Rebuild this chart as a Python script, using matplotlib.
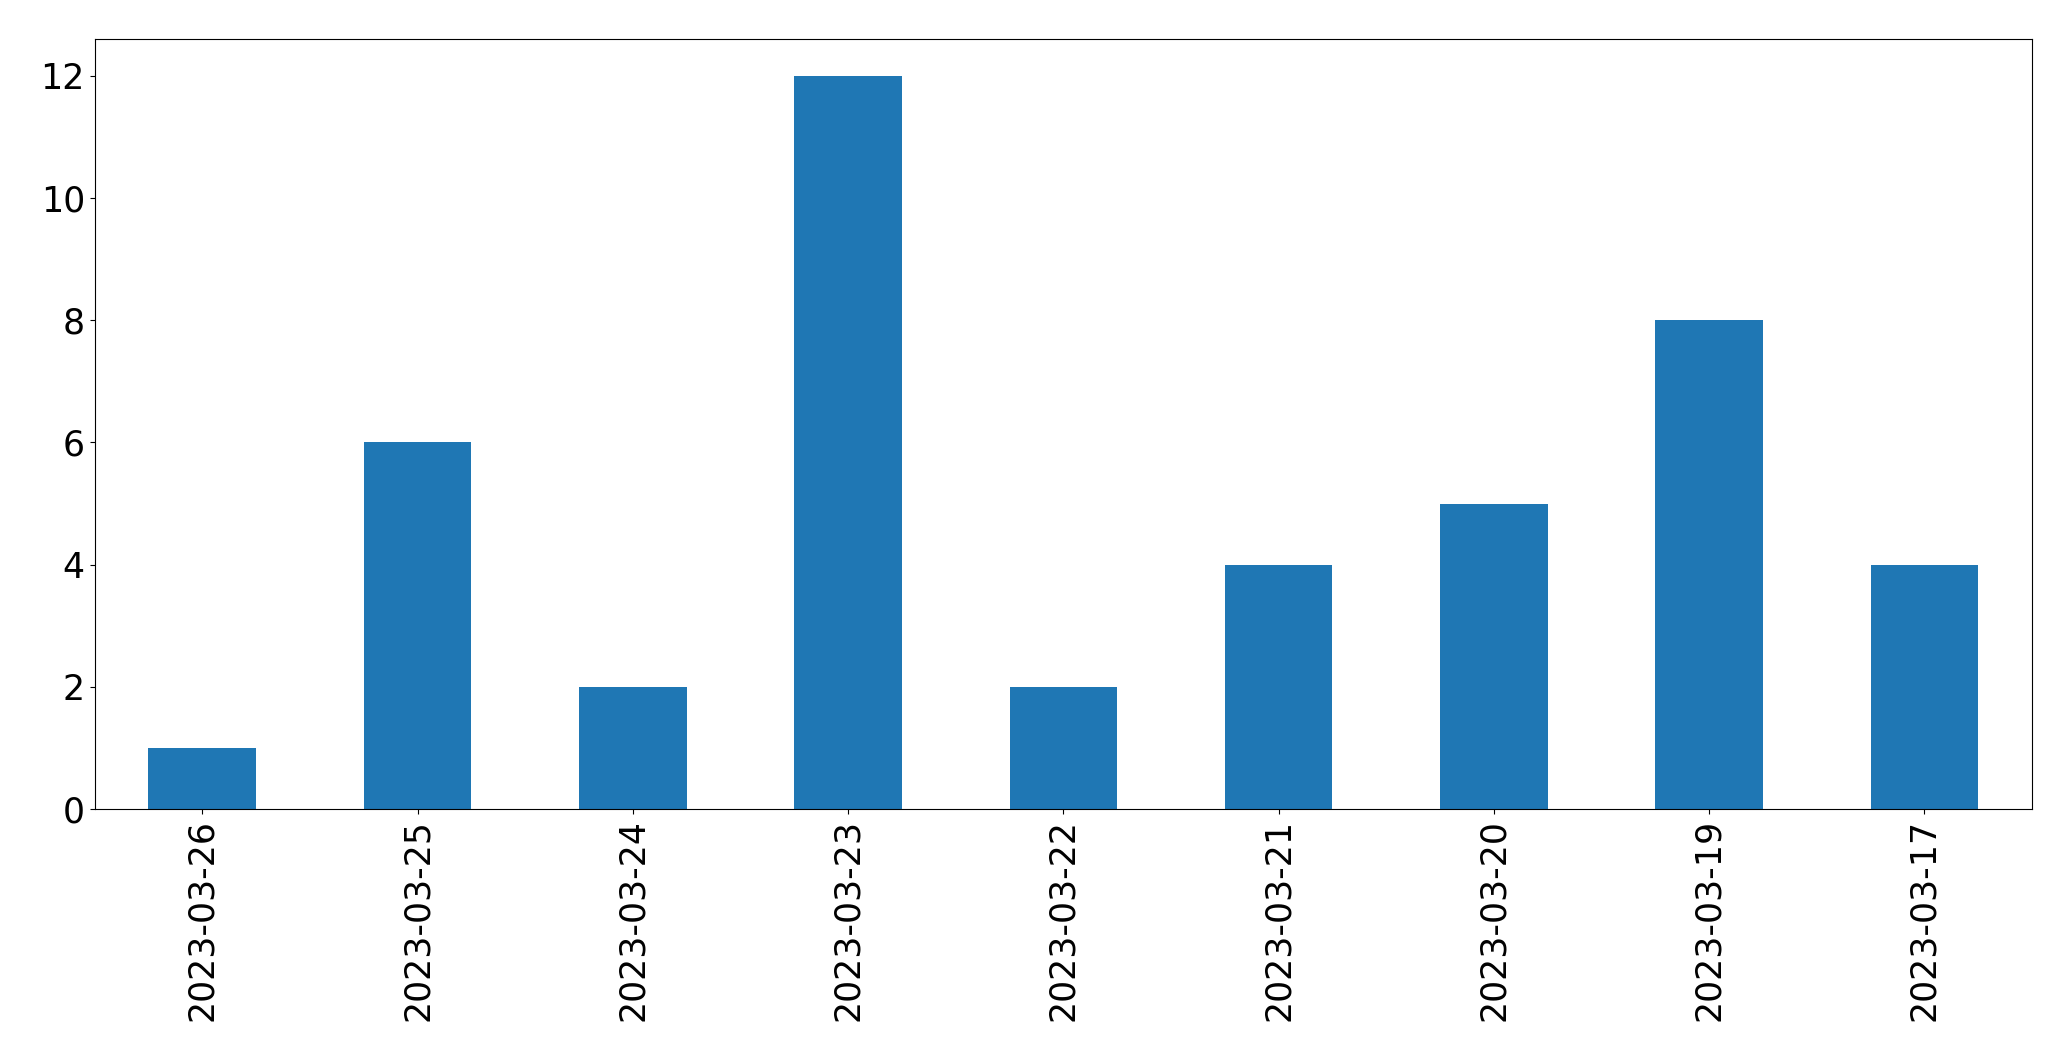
import matplotlib
matplotlib.use("Agg")
import matplotlib.pyplot as plt
import pandas as pd

dates = ["2023-03-26", "2023-03-25", "2023-03-24", "2023-03-23", "2023-03-22",
         "2023-03-21", "2023-03-20", "2023-03-19", "2023-03-17"]
counts = [1, 6, 2, 12, 2, 4, 5, 8, 4]

plt.rcParams['font.size'] = 25

s = pd.Series(counts, index=dates)

fig, ax = plt.subplots(figsize=(20.71, 10.61), dpi=100)
s.plot(kind='bar', ax=ax, color='#1f77b4')
fig.subplots_adjust(left=0.0457, right=0.9812, top=0.963, bottom=0.2375)

fig.savefig("out.png", dpi=100)
